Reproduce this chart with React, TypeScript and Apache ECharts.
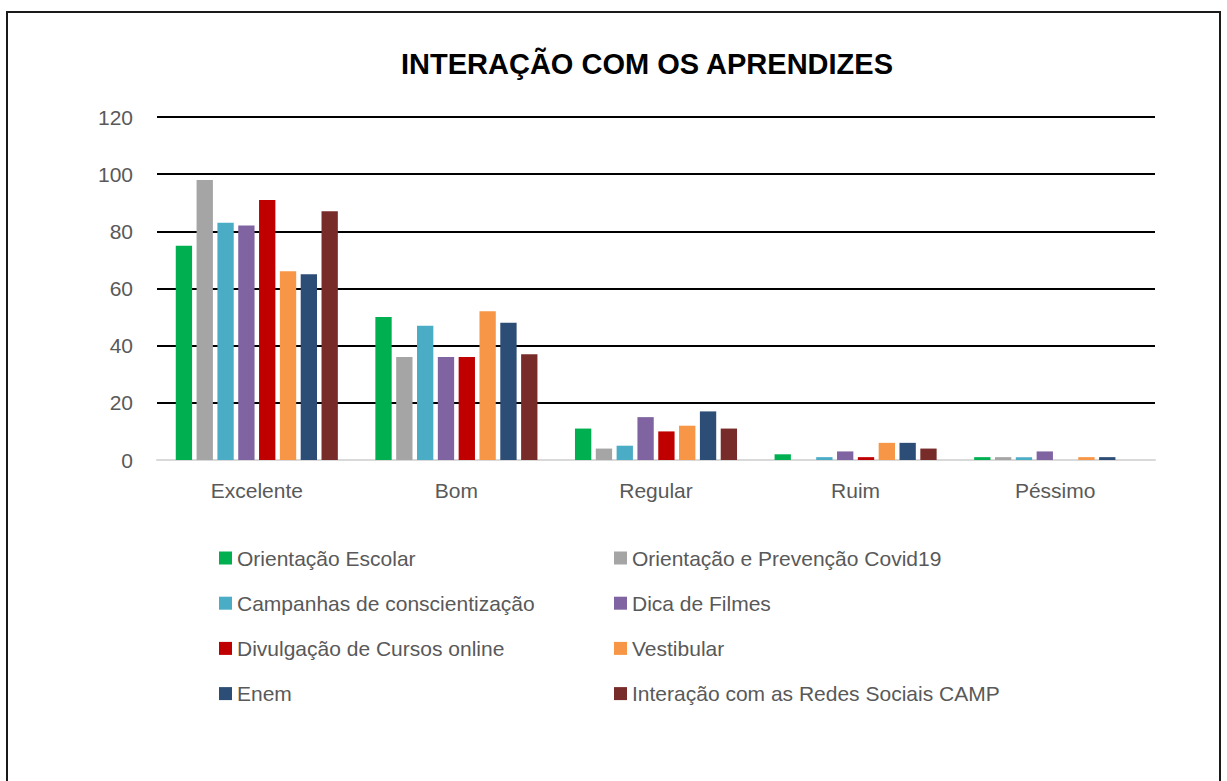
import React, { useEffect, useRef } from "react";
import * as echarts from "echarts";

const categories = ["Excelente", "Bom", "Regular", "Ruim", "Péssimo"];
const seriesNames = [
  "Orientação Escolar",
  "Orientação e Prevenção Covid19",
  "Campanhas de conscientização",
  "Dica de Filmes",
  "Divulgação de Cursos online",
  "Vestibular",
  "Enem",
  "Interação com as Redes Sociais CAMP",
];
const orientacaoEscolar = [75, 50, 11, 2, 1];
const prevencaoCovid = [98, 36, 4, 0, 1];
const campanhas = [83, 47, 5, 1, 1];
const dicaFilmes = [82, 36, 15, 3, 3];
const divulgacaoCursos = [91, 36, 10, 1, 0];
const vestibular = [66, 52, 12, 6, 1];
const enem = [65, 48, 17, 6, 1];
const redesSociais = [87, 37, 11, 4, 0];
const seriesValues = [
  orientacaoEscolar,
  prevencaoCovid,
  campanhas,
  dicaFilmes,
  divulgacaoCursos,
  vestibular,
  enem,
  redesSociais,
];
const colors = [
  "#00b050",
  "#a5a5a5",
  "#4bacc6",
  "#8064a2",
  "#c00000",
  "#f79646",
  "#2c4d75",
  "#772c2a",
];
const yTicks = { min: 0, max: 120, interval: 20 };

const FONT = "'Liberation Sans', Arial, sans-serif";

export default function App() {
  const ref = useRef<HTMLDivElement>(null);
  useEffect(() => {
    if (!ref.current) return;
    const chart = echarts.init(ref.current, null, { renderer: "svg" });
    const legendCommon = {
      orient: "vertical" as const,
      icon: "rect",
      itemWidth: 13,
      itemHeight: 13,
      itemGap: 23.2,
      textStyle: { fontSize: 21, color: "#595959", fontFamily: FONT, lineHeight: 22 },
      top: 542,
    };
    chart.setOption({
      animation: false,
      color: colors,
      textStyle: { fontFamily: FONT },
      title: {
        text: "INTERAÇÃO COM OS APRENDIZES",
        left: 642,
        top: 44,
        textAlign: "center",
        textStyle: { fontSize: 29, fontWeight: "bold", color: "#000", fontFamily: FONT },
      },
      graphic: [
        {
          type: "rect",
          shape: { x: 7, y: 12, width: 1213, height: 800 },
          style: { fill: "none", stroke: "#1a1a1a", lineWidth: 2 },
          silent: true,
        },
      ],
      legend: [
        { ...legendCommon, left: 214, data: [seriesNames[0], seriesNames[2], seriesNames[4], seriesNames[6]] },
        { ...legendCommon, left: 609, data: [seriesNames[1], seriesNames[3], seriesNames[5], seriesNames[7]] },
      ],
      grid: { left: 157, right: 72, top: 117, bottom: 321, containLabel: false },
      xAxis: {
        type: "category",
        data: categories,
        axisTick: { show: false },
        axisLine: { show: true, lineStyle: { color: "#d9d9d9", width: 2 } },
        axisLabel: { fontSize: 21, color: "#595959", margin: 20, fontFamily: FONT },
      },
      yAxis: {
        type: "value",
        min: yTicks.min,
        max: yTicks.max,
        interval: yTicks.interval,
        axisLine: { show: false },
        axisTick: { show: false },
        axisLabel: { fontSize: 21, color: "#595959", margin: 24, fontFamily: FONT },
        splitLine: { show: true, showMinLine: false, lineStyle: { color: "#000", width: 2 } },
      },
      series: seriesNames.map((name, i) => ({
        name,
        type: "bar",
        data: seriesValues[i],
        barGap: "27.6%",
        barCategoryGap: "18.8%",
        itemStyle: { color: colors[i] },
      })),
    });
    return () => chart.dispose();
  }, []);
  return (
    <div
      ref={ref}
      style={{ position: "fixed", left: 0, top: 0, width: 1227, height: 781, background: "#fff" }}
    />
  );
}
